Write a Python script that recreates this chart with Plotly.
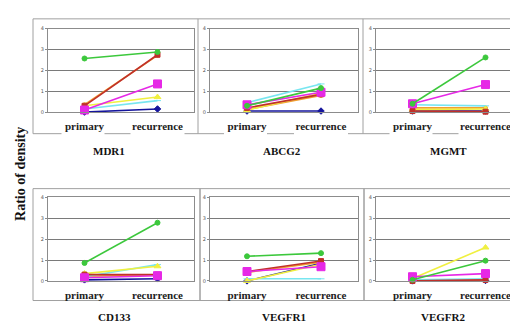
import plotly.graph_objects as go

W, H = 518, 323

genes = ["MDR1", "ABCG2", "MGMT", "CD133", "VEGFR1", "VEGFR2"]
phases = ["primary", "recurrence"]
y_ticks = [0, 1, 2, 3, 4]

# values per case, one entry per gene (order of `genes`)
blue_primary = [0.00, 0.05, 0.05, 0.05, 0.00, 0.00]
blue_recurrence = [0.15, 0.05, 0.05, 0.10, 0.85, 0.02]
orange_primary = [0.35, 0.12, 0.20, 0.22, 0.40, 0.05]
orange_recurrence = [2.72, 0.80, 0.20, 0.28, 0.90, 0.05]
cyan_primary = [0.15, 0.45, 0.35, 0.20, 0.10, 0.05]
cyan_recurrence = [0.55, 1.35, 0.30, 0.78, 0.10, 0.10]
yellow_primary = [0.30, 0.10, 0.12, 0.35, 0.00, 0.12]
yellow_recurrence = [0.72, 0.90, 0.15, 0.70, 0.80, 1.60]
red_primary = [0.30, 0.20, 0.05, 0.30, 0.45, 0.00]
red_recurrence = [2.75, 0.85, 0.02, 0.30, 0.95, 0.05]
magenta_primary = [0.10, 0.35, 0.40, 0.15, 0.45, 0.20]
magenta_recurrence = [1.35, 0.95, 1.32, 0.25, 0.68, 0.35]
green_primary = [2.57, 0.30, 0.40, 0.86, 1.18, 0.05]
green_recurrence = [2.88, 1.15, 2.62, 2.79, 1.33, 0.97]

cases = [
    ("Case 1", blue_primary, blue_recurrence, "#14149C", "diamond", 5),
    ("Case 2", orange_primary, orange_recurrence, "#F0A030", "circle", 4),
    ("Case 3", cyan_primary, cyan_recurrence, "#78E6F0", "line-ew", 5),
    ("Case 4", yellow_primary, yellow_recurrence, "#F0F040", "triangle-up", 6),
    ("Case 5", red_primary, red_recurrence, "#C0302A", "square", 5),
    ("Case 6", magenta_primary, magenta_recurrence, "#E628E6", "square", 8),
    ("Case 7", green_primary, green_recurrence, "#3CC83C", "circle", 5),
]

def px(x):
    return x / W

def py(y):
    return 1 - y / H

cols = [(40, 186), (202, 350), (368, 514)]
rows = [(18, 103), (190, 275)]

fig = go.Figure()
serif = "Liberation Serif"

for gi, gene in enumerate(genes):
    r, c = divmod(gi, 3)
    n = gi + 1
    xa = "x" if n == 1 else f"x{n}"
    ya = "y" if n == 1 else f"y{n}"
    for name, prim, rec, color, sym, size in cases:
        fig.add_trace(go.Scatter(
            x=phases, y=[prim[gi], rec[gi]], name=name, mode="lines+markers",
            line=dict(color=color, width=1.6),
            marker=dict(color=color, symbol=sym, size=size,
                        line=dict(color=color, width=1)),
            xaxis=xa, yaxis=ya, showlegend=False, cliponaxis=False))
    x0, x1 = cols[c]
    y0, y1 = rows[r]
    fig.layout[f"xaxis{'' if n == 1 else n}"] = dict(
        domain=[px(x0), px(x1)], anchor=ya, type="category",
        categoryorder="array", categoryarray=phases, range=[-0.5, 1.5],
        tickvals=phases, ticktext=[f"<b>{p}</b>" for p in phases],
        showline=True, mirror=True, linecolor="#8C8C8C", linewidth=1,
        showgrid=False, ticks="", ticklabelstandoff=4,
        tickfont=dict(family=serif, size=11, color="#222222", weight="bold"),
        fixedrange=True)
    fig.layout[f"yaxis{'' if n == 1 else n}"] = dict(
        domain=[py(y1), py(y0)], anchor=xa, range=[0, 4],
        tickvals=y_ticks, ticktext=[str(v) for v in y_ticks],
        showline=True, mirror=True, linecolor="#8C8C8C", linewidth=1,
        showgrid=True, gridcolor="#7A7A7A", gridwidth=1, zeroline=False,
        ticks="outside", ticklen=2, tickcolor="#8C8C8C",
        tickfont=dict(family="DejaVu Sans", size=5, color="#555555"), fixedrange=True)

shapes = []
line_style = dict(color="#A0A0A0", width=1)
# top row chart-area frames (bottom edge interrupted under the category labels)
top_frames = [(25, 190), (190, 355), (355, 522)]
for (fx0, fx1), (cx0, cx1) in zip(top_frames, cols):
    shapes.append(dict(type="line", xref="paper", yref="paper",
                       x0=px(fx0), x1=px(fx0), y0=py(8), y1=py(125), line=line_style))
    shapes.append(dict(type="line", xref="paper", yref="paper",
                       x0=px(fx0), x1=px(fx1), y0=py(8), y1=py(8), line=line_style))
    w = cx1 - cx0
    p_c = cx0 + 0.25 * w
    r_c = cx0 + 0.75 * w
    segs = [(fx0, p_c - 23), (p_c + 20, r_c - 27), (r_c + 27, fx1)]
    for sx0, sx1 in segs:
        shapes.append(dict(type="line", xref="paper", yref="paper",
                           x0=px(sx0), x1=px(sx1), y0=py(125), y1=py(125), line=line_style))
# bottom row frames
bottom_frames = [(25, 192), (192, 356), (356, 522)]
for fx0, fx1 in bottom_frames:
    shapes.append(dict(type="rect", xref="paper", yref="paper",
                       x0=px(fx0), x1=px(fx1), y0=py(295), y1=py(181),
                       line=line_style, fillcolor="rgba(0,0,0,0)", layer="below"))

annotations = []
title_pos = [(101, 143), (274, 143), (440, 143), (106, 312), (276, 312), (435, 312)]
for gene, (tx, ty) in zip(genes, title_pos):
    annotations.append(dict(text=f"<b>{gene}</b>", xref="paper", yref="paper",
                            x=px(tx), y=py(ty), showarrow=False,
                            xanchor="center", yanchor="middle",
                            font=dict(family=serif, size=11, color="#111111")))
annotations.append(dict(text="<b>Ratio of density</b>", xref="paper", yref="paper",
                        x=px(13), y=py(166), showarrow=False, textangle=-90,
                        xanchor="center", yanchor="middle",
                        font=dict(family=serif, size=14, color="#111111")))

fig.update_layout(width=W, height=H, margin=dict(l=0, r=0, t=0, b=0),
                  paper_bgcolor="white", plot_bgcolor="white",
                  shapes=shapes, annotations=annotations)

fig.write_html("out.html")
